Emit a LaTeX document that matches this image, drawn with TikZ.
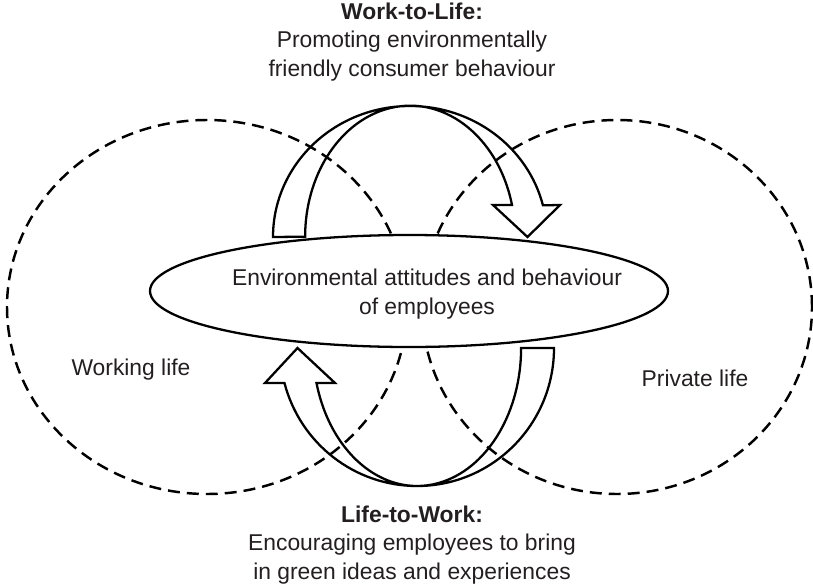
\documentclass[tikz,border=0pt]{standalone}
\usepackage{fontspec}
\setmainfont{Liberation Sans}
\usetikzlibrary{shapes.geometric}
\definecolor{ink}{HTML}{231F20}

\begin{document}
\begin{tikzpicture}[lnode/.style={draw,dashed,ellipse,line width=1.4pt,dash pattern=on 6.8pt off 4pt,minimum height=7.48cm,inner sep=0pt},
  cnode/.style={draw,ellipse,fill=white,line width=1.3pt,minimum width=10.36cm,minimum height=2.24cm,inner sep=0pt},
  tnode/.style={text=ink,align=center,font=\fontsize{13}{16.2}\selectfont},
  flow/.style={draw,line width=1.3pt,line join=miter}]
    \useasboundingbox (0,0) rectangle (16.26,11.68);

    \node[lnode,minimum width=8cm] (work) at (4.14,5.54) {};
    \node[lnode,minimum width=7.8cm] (life) at (12.34,5.54) {};
    \node[cnode] (core) at (8.18,5.86) {};

    \node[tnode] (coret) at (8.54,5.80) {Environmental attitudes and behaviour\\of employees};
    \node[tnode] (workt) at (2.62,4.28) {Working life};
    \node[tnode] (lifet) at (13.9,4.12) {Private life};
    \node[tnode] (w2l) at (8.24,10.84) {\textbf{Work-to-Life:}\\Promoting environmentally\\friendly consumer behaviour};
    \node[tnode] (l2w) at (8.24,0.78) {\textbf{Life-to-Work:}\\Encouraging employees to bring\\in green ideas and experiences};

    \draw[flow] (5.46,6.94) arc[start angle=180, end angle=14, x radius=2.74, y radius=2.62]
        -- (11.2,7.58) -- (10.55,6.94) -- (9.86,7.58) -- (10.24,7.58)
        arc[start angle=14, end angle=180, x radius=2.1, y radius=2.62] -- cycle;
    \draw[flow] (11.08,4.72) arc[start angle=0, end angle=-165.3, x radius=2.74, y radius=2.76]
        -- (5.3,4.02) -- (5.95,4.72) -- (6.7,4.02) -- (6.33,4.02)
        arc[start angle=-165.3, end angle=0, x radius=2.08, y radius=2.76] -- cycle;
\end{tikzpicture}
\end{document}
